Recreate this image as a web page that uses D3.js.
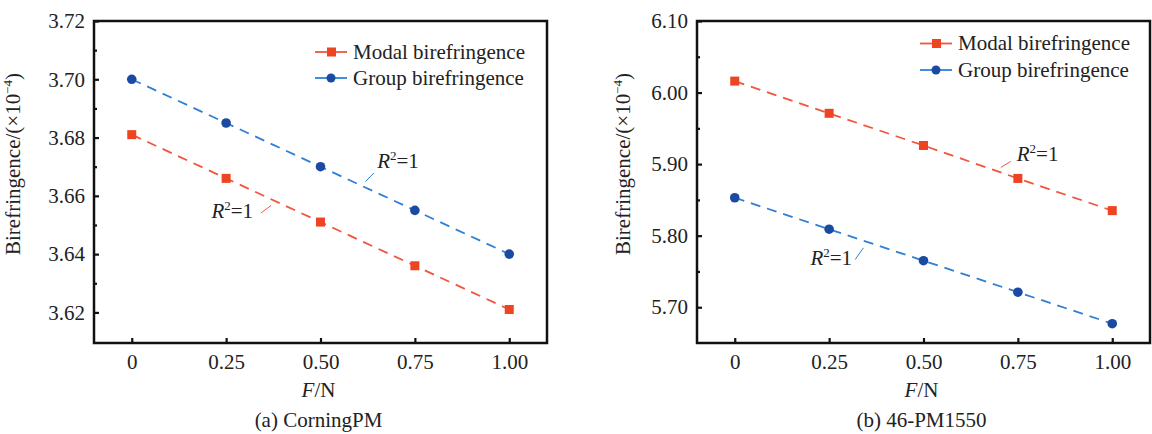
<!DOCTYPE html>
<html>
<head>
<meta charset="utf-8">
<script src="https://cdn.jsdelivr.net/npm/d3@7"></script>
<style>
  body { margin: 0; background: #fff; }
  svg { font-family: "Liberation Serif", "Times New Roman", serif; }
</style>
</head>
<body>
<svg id="chart" width="1152" height="434"></svg>
<script>
// values
const forces = [0, 0.25, 0.5, 0.75, 1.0];
const xTickLabels = ["0", "0.25", "0.50", "0.75", "1.00"];

const modalA = [3.681, 3.666, 3.651, 3.636, 3.621];
const groupA = [3.700, 3.685, 3.670, 3.655, 3.640];
const yTicksA = [3.62, 3.64, 3.66, 3.68, 3.70, 3.72];
const yMinorA = [3.63, 3.65, 3.67, 3.69, 3.71];

const modalB = [6.016, 5.971, 5.926, 5.880, 5.835];
const groupB = [5.853, 5.809, 5.765, 5.721, 5.677];
const yTicksB = [5.70, 5.80, 5.90, 6.00, 6.10];
const yMinorB = [5.75, 5.85, 5.95, 6.05];

const seriesNames = ["Modal birefringence", "Group birefringence"];
const captions = ["(a) CorningPM", "(b) 46-PM1550"];

const RED = "#ee4422", RED_LINE = "#f2553f";
const BLUE = "#1b4aa3", BLUE_LINE = "#2f80d4";
const FS = 21;

const svg = d3.select("#chart");

function drawPanel(p) {
  const w = p.right - p.left, h = p.bottom - p.top;
  const g = svg.append("g").attr("transform", `translate(${p.left},${p.top})`);

  const x = d3.scaleLinear().domain([-0.1, 1.1]).range([0, w]);
  const y = d3.scaleLinear().domain(p.yDomain).range([h, 0]);

  // y axis major + minor (inward ticks)
  const ya = g.append("g")
    .call(d3.axisLeft(y).tickValues(p.yTicks).tickFormat(d3.format(".2f")).tickSize(-5).tickPadding(9));
  ya.append("g").call(d3.axisLeft(y).tickValues(p.yMinor).tickFormat("").tickSize(-3));

  const xa = g.append("g").attr("transform", `translate(0,${h})`)
    .call(d3.axisBottom(x).tickValues(forces).tickFormat((d, i) => xTickLabels[i]).tickSize(-5).tickPadding(11));

  [ya, xa].forEach(a => a.attr("font-family", null).attr("font-size", FS));
  g.selectAll(".domain").remove();
  g.selectAll(".tick line").attr("stroke", "#111").attr("stroke-width", 2.2);
  g.selectAll(".tick text").attr("fill", "#222");

  g.append("rect").attr("width", w).attr("height", h)
    .attr("fill", "none").attr("stroke", "#111").attr("stroke-width", 2.5);

  const series = [
    {vals: p.modal, col: RED, line: RED_LINE, shape: "square"},
    {vals: p.group, col: BLUE, line: BLUE_LINE, shape: "circle"}
  ];

  const lineGen = d3.line().x((d, i) => x(forces[i])).y(d => y(d));

  series.forEach(s => {
    g.append("path").datum(s.vals).attr("d", lineGen)
      .attr("fill", "none").attr("stroke", s.line).attr("stroke-width", 1.8)
      .attr("stroke-dasharray", "10,7");
    if (s.shape === "square") {
      g.selectAll(null).data(s.vals).join("rect")
        .attr("x", (d, i) => x(forces[i]) - 4.5).attr("y", d => y(d) - 4.5)
        .attr("width", 9).attr("height", 9).attr("fill", s.col);
    } else {
      g.selectAll(null).data(s.vals).join("circle")
        .attr("cx", (d, i) => x(forces[i])).attr("cy", d => y(d))
        .attr("r", 4.8).attr("fill", s.col);
    }
  });

  // R^2 annotations
  p.notes.forEach(n => {
    g.append("line")
      .attr("x1", x(n.l[0])).attr("y1", y(n.l[1]))
      .attr("x2", x(n.l[2])).attr("y2", y(n.l[3]))
      .attr("stroke", n.col).attr("stroke-width", 1);
    const t = g.append("text").attr("x", x(n.t[0])).attr("y", y(n.t[1]))
      .attr("font-size", FS).attr("fill", "#222");
    t.append("tspan").attr("font-style", "italic").text("R");
    t.append("tspan").attr("font-size", 13).attr("dy", -8).text("2");
    t.append("tspan").attr("dy", 8).text("=1");
  });

  // legend
  series.forEach((s, i) => {
    const ly = p.legY + i * p.legGap;
    const lg = g.append("g").attr("transform", `translate(${w - p.legRight},${ly})`);
    lg.append("line").attr("x1", 0).attr("x2", 32).attr("stroke", s.line).attr("stroke-width", 1.8);
    if (s.shape === "square") lg.append("rect").attr("x", 12).attr("y", -4.5).attr("width", 9).attr("height", 9).attr("fill", s.col);
    else lg.append("circle").attr("cx", 16).attr("r", 4.5).attr("fill", s.col);
    lg.append("text").attr("x", 38).attr("dy", "0.33em").attr("font-size", FS).attr("fill", "#222").text(seriesNames[i]);
  });

  // y label
  const yl = g.append("text")
    .attr("transform", `translate(${p.yLabelX},${h / 2 - 18}) rotate(-90)`)
    .attr("text-anchor", "middle").attr("font-size", FS).attr("fill", "#222");
  yl.append("tspan").text("Birefringence/(×10");
  yl.append("tspan").attr("font-size", 13).attr("dy", -8).text("−4");
  yl.append("tspan").attr("dy", 8).text(")");

  // x label
  const xl = g.append("text").attr("x", w / 2 - 2).attr("y", h + 54)
    .attr("text-anchor", "middle").attr("font-size", FS).attr("fill", "#222");
  xl.append("tspan").attr("font-style", "italic").text("F");
  xl.append("tspan").text("/N");

  g.append("text").attr("x", w / 2 - 2).attr("y", h + 84)
    .attr("text-anchor", "middle").attr("font-size", FS).attr("fill", "#222").text(p.caption);
}

drawPanel({
  left: 94, top: 21, right: 547, bottom: 343,
  yDomain: [3.6095, 3.72], yTicks: yTicksA, yMinor: yMinorA,
  modal: modalA, group: groupA, caption: captions[0],
  legRight: 232, legY: 31, legGap: 26, yLabelX: -74,
  notes: [
    {col: BLUE_LINE, t: [0.65, 3.6695], l: [0.619, 3.6649, 0.641, 3.6678]},
    {col: RED_LINE, t: [0.211, 3.6523], l: [0.342, 3.6541, 0.369, 3.6567]}
  ]
});

drawPanel({
  left: 697, top: 21, right: 1150, bottom: 343,
  yDomain: [5.65, 6.10], yTicks: yTicksB, yMinor: yMinorB,
  modal: modalB, group: groupB, caption: captions[1],
  legRight: 230, legY: 22.5, legGap: 26.5, yLabelX: -67,
  notes: [
    {col: RED_LINE, t: [0.747, 5.905], l: [0.705, 5.8954, 0.731, 5.9038]},
    {col: BLUE_LINE, t: [0.2004, 5.7597], l: [0.319, 5.7667, 0.341, 5.783]}
  ]
});
</script>
</body>
</html>
